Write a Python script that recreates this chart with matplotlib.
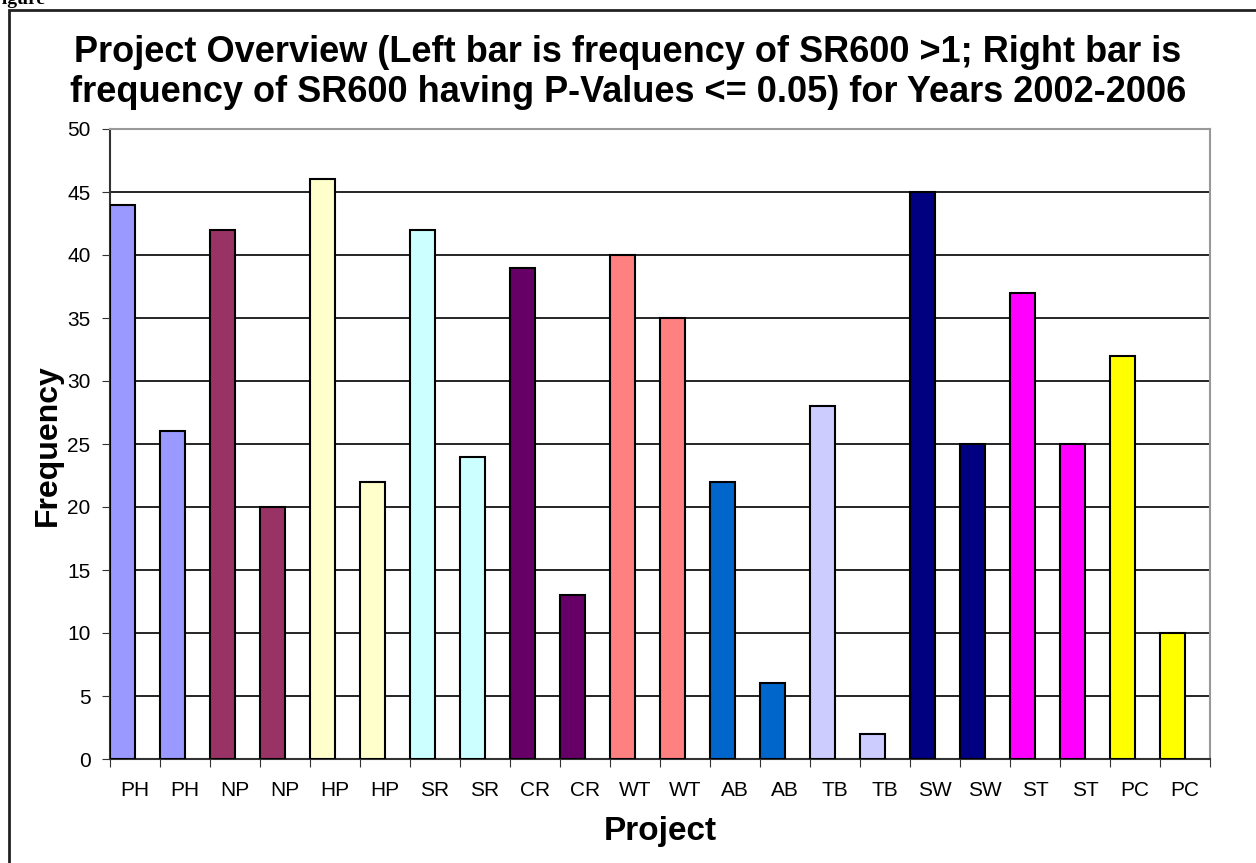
import numpy as np
from matplotlib import pyplot as plt
from matplotlib.patches import Rectangle
#
labels = ['PH', 'PH', 'NP', 'NP', 'HP', 'HP', 'SR', 'SR', 'CR', 'CR', 'WT',
          'WT', 'AB', 'AB', 'TB', 'TB', 'SW', 'SW', 'ST', 'ST', 'PC', 'PC']
freq = [44, 26, 42, 20, 46, 22, 42, 24, 39, 13, 40,
        35, 22, 6, 28, 2, 45, 25, 37, 25, 32, 10]
proj_colors = {'PH': '#9999FF', 'NP': '#993366', 'HP': '#FFFFCC',
               'SR': '#CCFFFF', 'CR': '#660066', 'WT': '#FF8080',
               'AB': '#0066CC', 'TB': '#CCCCFF', 'SW': '#000080',
               'ST': '#FF00FF', 'PC': '#FFFF00'}
#
plt.rcParams['font.family'] = ['Liberation Sans', 'DejaVu Sans']
W, H = 1256, 863
fig = plt.figure(figsize=(W/100., H/100.), dpi=100)
ax = fig.add_axes([110./W, (H-759.)/H, 1100./W, 630./H])
#
x = np.arange(len(freq))
ax.bar(x, freq, width=0.5, align='edge',
       color=[proj_colors[l] for l in labels],
       edgecolor='black', linewidth=1.5, zorder=3)
#
ax.set_xlim(0, len(freq))
ax.set_ylim(0, 50)
ax.set_yticks(np.arange(0, 51, 5))
ax.set_xticks(np.arange(0, len(freq)+1))
ax.set_xticklabels([])
ax.set_xticks(x + 0.5, minor=True)
ax.set_xticklabels(labels, minor=True)
ax.tick_params(axis='x', which='minor', length=0, pad=16, labelsize=15)
ax.tick_params(axis='x', which='major', length=6, color='#333333')
ax.tick_params(axis='y', length=6, pad=8, labelsize=15, color='#333333')
ax.yaxis.grid(True, color='black', linewidth=1.2, zorder=0)
ax.set_axisbelow(True)
for s in ['top', 'right']:
    ax.spines[s].set_color('#999999')
    ax.spines[s].set_linewidth(1.5)
for s in ['left', 'bottom']:
    ax.spines[s].set_color('#333333')
    ax.spines[s].set_linewidth(1.5)
#
fig.text(628./W, 1-52./H, 'Project Overview (Left bar is frequency of SR600 >1; Right bar is',
         ha='center', va='center', fontsize=26, fontweight='bold')
fig.text(628./W, 1-92./H, 'frequency of SR600 having P-Values <= 0.05) for Years 2002-2006',
         ha='center', va='center', fontsize=26, fontweight='bold')
fig.text(48./W, 1-445./H, 'Frequency', rotation=90, ha='center', va='center',
         fontsize=23, fontweight='bold')
fig.text(660./W, 1-840./H, 'Project', ha='center', va='baseline',
         fontsize=24, fontweight='bold')
fig.text(-9./W, 1-4./H, 'Figure', ha='left', va='baseline', fontsize=14,
         fontweight='bold', family='Liberation Serif')
#
fig.patches.append(Rectangle((9./W, -0.1), 1.2, 1-10./H+0.1, transform=fig.transFigure,
                             fill=False, edgecolor='#222222', linewidth=2))
#
fig.savefig('out.png', dpi=100)
